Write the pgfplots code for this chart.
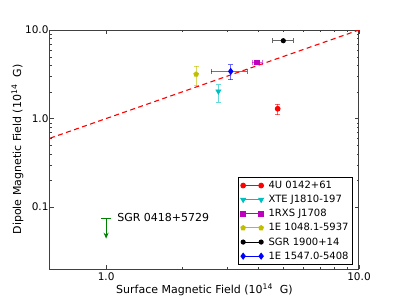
\documentclass[border=0pt]{standalone}
\usepackage{fontspec}
\setmainfont{DejaVu Sans}
\usepackage{pgfplots}
\pgfplotsset{compat=1.18}
\usetikzlibrary{arrows.meta}
\definecolor{mc}{rgb}{0,0.75,0.75}
\definecolor{mm}{rgb}{0.75,0,0.75}
\definecolor{my}{rgb}{0.75,0.75,0}
\definecolor{mg}{rgb}{0,0.5,0}
\begin{document}
\begin{tikzpicture}[x=1pt,y=1pt]
\path[use as bounding box] (-50,-31) rectangle (350,269);
\begin{axis}[
  scale only axis, width=309pt, height=239pt,
  xmode=log, ymode=log,
  xmin=0.6, xmax=10, ymin=0.02, ymax=10,
  xtick={1,10}, xticklabels={1.0,10.0},
  ytick={0.1,1,10}, yticklabels={0.1,1.0,10.0},
  /pgf/number format/assume math mode=true,
  tick label style={font=\fontsize{10.5}{12}\selectfont},
  yticklabel style={xshift=2pt},
  label style={font=\fontsize{11}{13}\selectfont},
  xlabel={Surface Magnetic Field (10\textsuperscript{14}\ \ G)},
  ylabel={Dipole Magnetic Field (10\textsuperscript{14}\ \ G)},
  xlabel style={yshift=3pt},
  ylabel style={at={(axis description cs:-0.105,0.5)}, anchor=center},
  axis line style={black!75, line width=1pt},
  tick style={black!75},
  major tick length=4pt, minor tick length=2pt,
  every axis plot/.append style={line width=0.9pt},
  error bars/error bar style={line width=1pt, opacity=0.6},
  error bars/error mark options={rotate=90, mark size=2.5pt, line width=1pt},
  legend cell align=left,
  legend image code/.code={\draw[#1] plot coordinates {(0pt,0pt) (18pt,0pt)}; \path (23pt,0pt);},
  legend style={at={(0.98,0.017)}, anchor=south east, font=\fontsize{10}{12}\selectfont,
    draw=black, line width=0.6pt, row sep=1.2pt, inner sep=2pt},
]
\addplot[red, mark=*, mark size=2.4pt, error bars/.cd, y dir=both, y explicit]
  coordinates {(4.77,1.29) += (0,0.17) -= (0,0.19)};
\addlegendentry{4U 0142+61}
\addplot[mc, mark=triangle*, mark options={rotate=180}, mark size=2.7pt, error bars/.cd, y dir=both, y explicit]
  coordinates {(2.78,2.03) += (0,0.37) -= (0,0.5)};
\addlegendentry{XTE J1810-197}
\addplot[mm, mark=square*, mark size=2.3pt, error bars/.cd, x dir=both, x explicit, y dir=both, y explicit]
  coordinates {(3.96,4.31) += (0.18,0.15) -= (0.17,0.15)};
\addlegendentry{1RXS J1708}
\addplot[my, mark=pentagon*, mark size=2.4pt, error bars/.cd, y dir=both, y explicit]
  coordinates {(2.27,3.16) += (0,0.73) -= (0,0.81)};
\addlegendentry{1E 1048.1-5937}
\addplot[black, mark=*, mark size=2.1pt, error bars/.cd, x dir=both, x explicit]
  coordinates {(5.02,7.57) += (0.48,0) -= (0.46,0)};
\addlegendentry{SGR 1900+14}
\addplot[blue, mark=diamond*, mark size=2.9pt, error bars/.cd, x dir=both, x explicit, y dir=both, y explicit]
  coordinates {(3.11,3.41) += (0.51,0.62) -= (0.5,0.66)};
\addlegendentry{1E 1547.0-5408}
\addplot[red, line width=1.1pt, dash pattern=on 5pt off 3.5pt, forget plot] coordinates {(0.6,0.6) (10,10)};
\addplot[mg, line width=1pt, forget plot] coordinates {(0.955,0.074) (1.047,0.074)};
\addplot[mg, line width=1pt, -{Stealth[length=6pt,width=5pt]}, forget plot] coordinates {(1,0.074) (1,0.044)};
\node[anchor=west, font=\fontsize{11}{12}\selectfont, inner sep=0pt] at (axis cs:1.105,0.076) {SGR 0418+5729};
\end{axis}
\end{tikzpicture}
\end{document}
